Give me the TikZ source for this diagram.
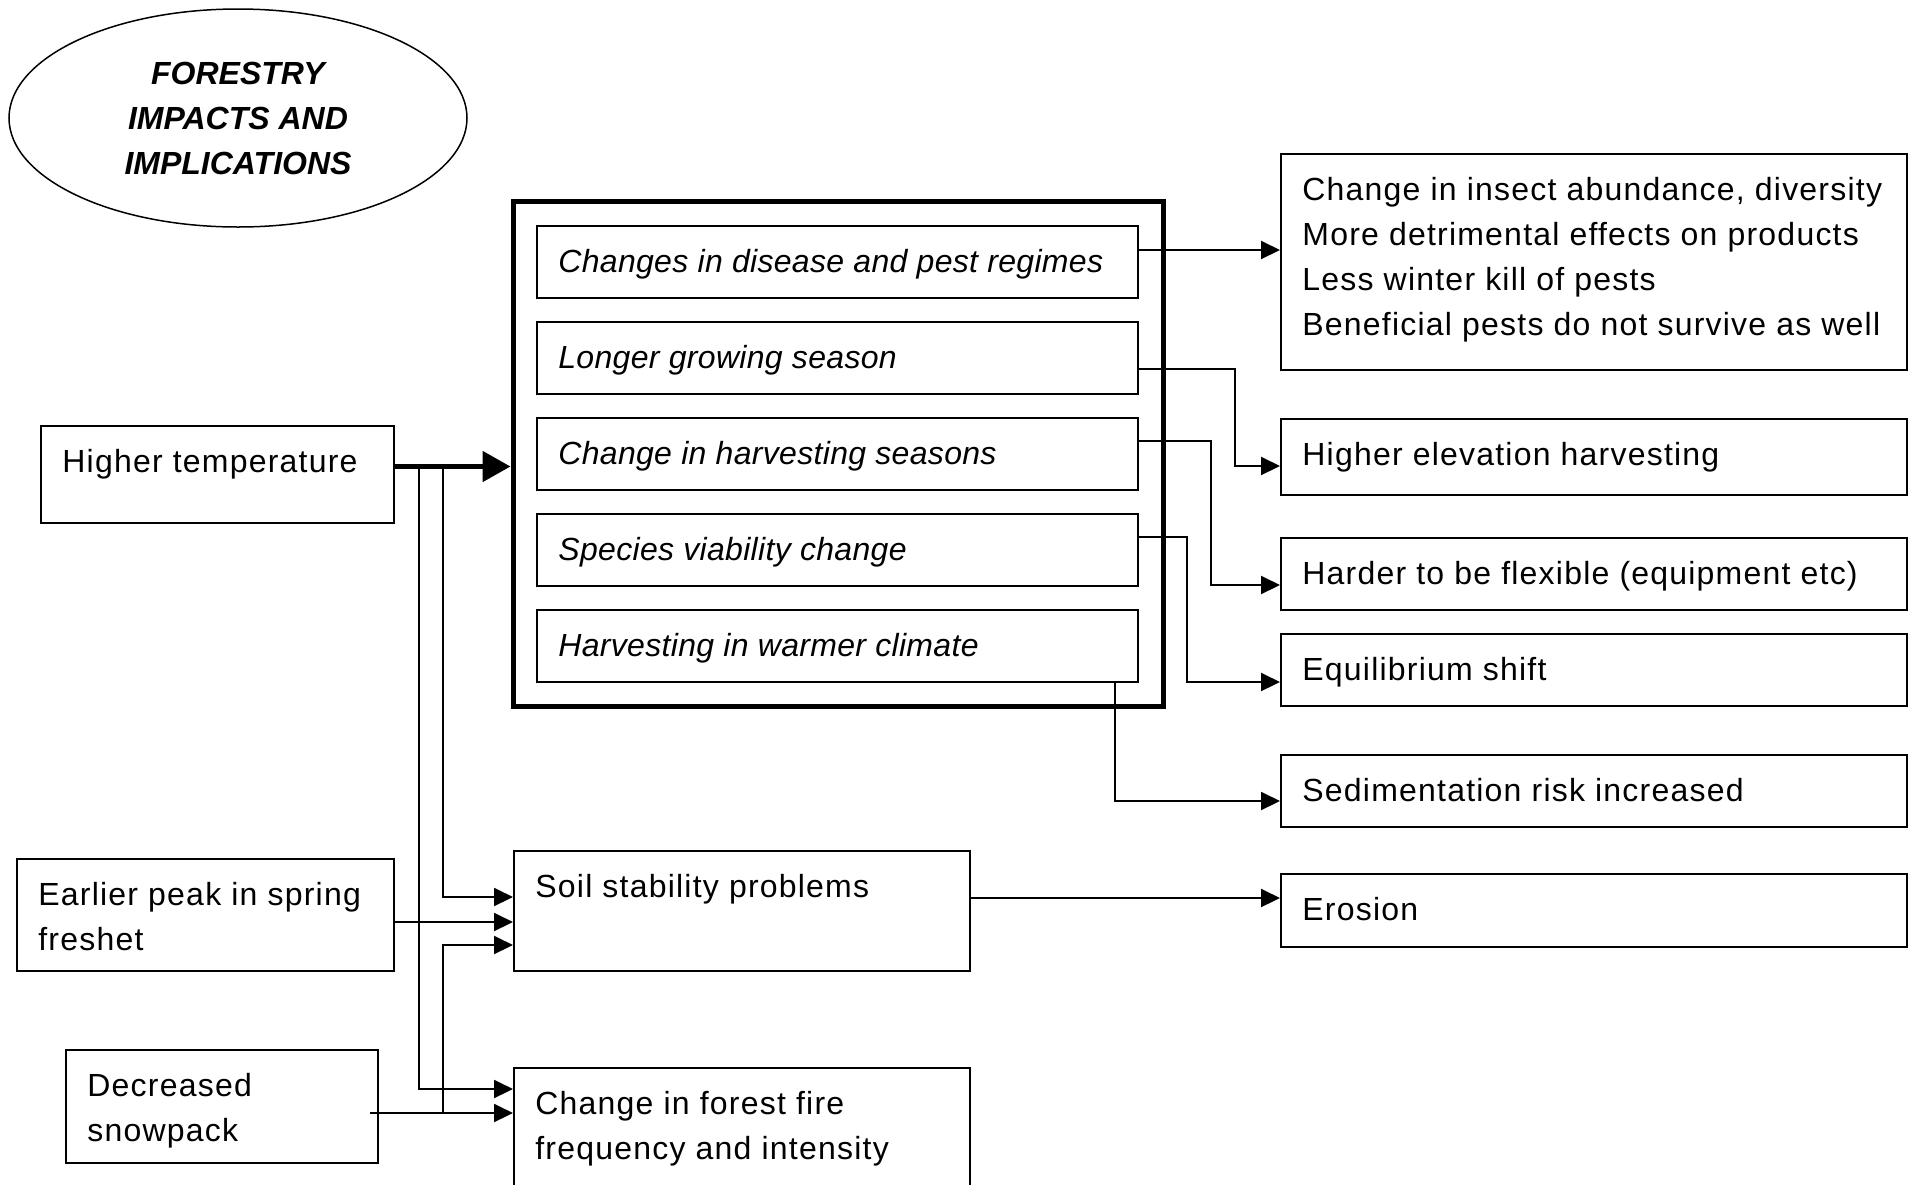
\documentclass[tikz,border=0pt]{standalone}
\usepackage{fontspec}
\setmainfont{Liberation Sans}
\newfontfamily\spaced{Liberation Sans}[LetterSpace=3.8]
\newfontfamily\slanted{Liberation Sans}[LetterSpace=1]
\usetikzlibrary{arrows.meta,positioning,shapes.geometric}
\tikzset{
  box/.style={draw, line width=1pt, anchor=north west, inner sep=0pt},
  txt/.style={anchor=north west, inner xsep=11pt, inner ysep=12pt, align=left, font=\fontsize{16}{22.5}\selectfont\spaced},
  itx/.style={txt, font=\fontsize{16}{22.5}\selectfont\slanted\itshape},
  arr/.style={line width=1pt, -{Triangle[length=9.5pt, width=9pt]}},
  big/.style={line width=2.5pt, -{Triangle[length=14pt, width=15pt]}},
  oval/.style={draw, ellipse, line width=0.75pt, inner sep=0pt, minimum width=229pt, minimum height=109pt, align=center, font=\fontsize{16}{22.5}\selectfont\bfseries\itshape}
}

\begin{document}
\begin{tikzpicture}[x=0.5pt, y=-0.5pt]
\useasboundingbox (0,0) rectangle (1909,1184);
\clip (0,0) rectangle (1909,1184);

\node[oval] (title) at (238,118) {FORESTRY\\IMPACTS AND\\IMPLICATIONS};

% causes
\node[box, minimum width=176.5pt, minimum height=48.5pt, label={[txt]north west:Higher temperature}] (ht) at (40,425) {};
\node[box, minimum width=188.5pt, minimum height=56pt, label={[txt]north west:{Earlier peak in spring\\freshet}}] (ep) at (16,858) {};
\node[box, minimum width=156pt, minimum height=56.5pt, label={[txt]north west:{Decreased\\snowpack}}] (sp) at (65,1049) {};

% impacts
\node[box, line width=2.5pt, minimum width=325pt, minimum height=252.5pt] (frame) at (510.5,198.5) {};
\node[box, minimum width=300.5pt, minimum height=36pt, label={[itx]north west:Changes in disease and pest regimes}] (imp1) at (536,225) {};
\node[box, minimum width=300.5pt, minimum height=36pt, below=11pt of imp1, label={[itx]north west:Longer growing season}] (imp2) {};
\node[box, minimum width=300.5pt, minimum height=36pt, below=11pt of imp2, label={[itx]north west:Change in harvesting seasons}] (imp3) {};
\node[box, minimum width=300.5pt, minimum height=36pt, below=11pt of imp3, label={[itx]north west:Species viability change}] (imp4) {};
\node[box, minimum width=300.5pt, minimum height=36pt, below=11pt of imp4, label={[itx]north west:Harvesting in warmer climate}] (imp5) {};
\node[box, minimum width=228pt, minimum height=60pt, label={[txt]north west:Soil stability problems}] (soil) at (513,850) {};
\node[box, minimum width=228pt, minimum height=66.5pt, label={[txt]north west:{Change in forest fire\\frequency and intensity}}] (fire) at (513,1067) {};

% implications
\node[box, minimum width=313pt, minimum height=108pt, label={[txt]north west:{Change in insect abundance, diversity\\More detrimental effects on products\\Less winter kill of pests\\Beneficial pests do not survive as well}}] (r1) at (1280,153) {};
\node[box, minimum width=313pt, minimum height=38pt, label={[txt]north west:Higher elevation harvesting}] (r2) at (1280,418) {};
\node[box, minimum width=313pt, minimum height=36pt, label={[txt]north west:Harder to be flexible (equipment etc)}] (r3) at (1280,537) {};
\node[box, minimum width=313pt, minimum height=36pt, label={[txt]north west:Equilibrium shift}] (r4) at (1280,633) {};
\node[box, minimum width=313pt, minimum height=36pt, label={[txt]north west:Sedimentation risk increased}] (r5) at (1280,754) {};
\node[box, minimum width=313pt, minimum height=36.5pt, label={[txt]north west:Erosion}] (ero) at (1280,873) {};

% arrow ends
\coordinate (s1) at ([yshift=-23.5pt]soil.north west);
\coordinate (s2) at ([yshift=-36pt]soil.north west);
\coordinate (s3) at ([yshift=-47.5pt]soil.north west);
\coordinate (f1) at ([yshift=-11pt]fire.north west);
\coordinate (f2) at ([yshift=-23pt]fire.north west);
\coordinate (j1) at ([xshift=12pt, yshift=4pt]ht.east);
\coordinate (j2) at ([xshift=24pt, yshift=4pt]ht.east);
\coordinate (spx) at ([xshift=-4.5pt]sp.east);

\draw[big] ([yshift=4pt]ht.east) -- ([yshift=4pt]ht.east -| frame.west);
\draw[arr] (j1) |- (f1);
\draw[arr] (j2) |- (s1);
\draw[arr] (ep.east |- s2) -- (s2);
\draw[arr] (spx |- f2) -- (f2);
\draw[arr] (j2 |- f2) |- (s3);

\draw[arr] ([yshift=-12.5pt]imp1.north east) -- ([yshift=-12.5pt]imp1.north east -| r1.west);
\draw[arr] ([yshift=-24pt]imp2.north east) -- ++(96,0) |- ([yshift=-24pt]r2.north west);
\draw[arr] ([yshift=-12pt]imp3.north east) -- ++(72,0) |- ([yshift=-24pt]r3.north west);
\draw[arr] ([yshift=-12pt]imp4.north east) -- ++(48,0) |- ([yshift=-24.5pt]r4.north west);
\draw[arr] ([xshift=-12pt]imp5.south east) |- ([yshift=-23.5pt]r5.north west);
\draw[arr] ([yshift=-24pt]soil.north east) -- ([yshift=-24pt]soil.north east -| ero.west);
\end{tikzpicture}
\end{document}
